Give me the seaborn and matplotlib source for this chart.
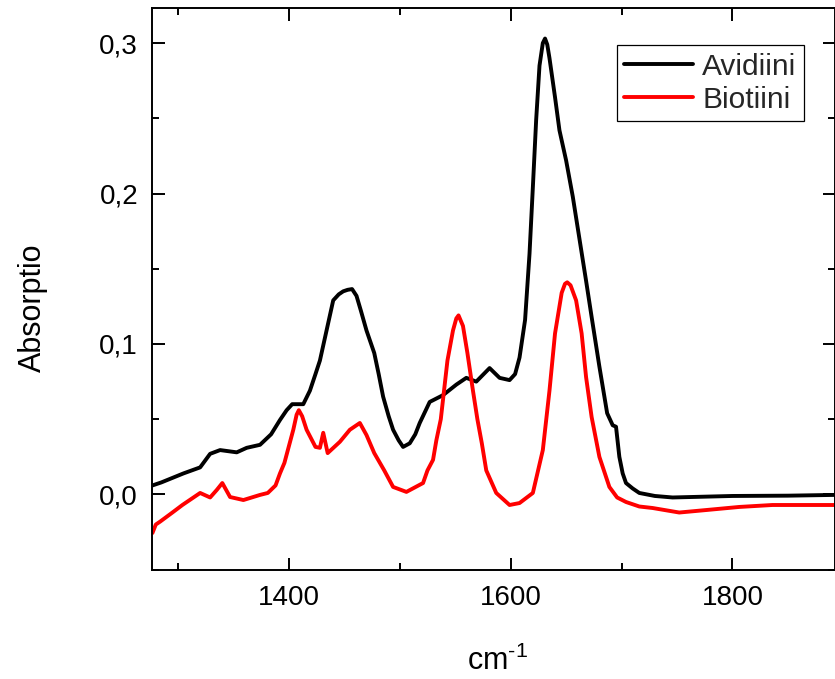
import matplotlib
matplotlib.use("Agg")
import matplotlib.pyplot as plt
import numpy as np
import pandas as pd
import seaborn as sns
from matplotlib.ticker import FixedLocator, MultipleLocator

# Wavenumbers (cm^-1) and absorbance for each sample
avidin_x = [1277, 1285, 1295, 1305, 1320, 1329, 1338, 1353, 1362, 1374, 1384, 1392,
            1398, 1403, 1413, 1419, 1424, 1428, 1434, 1440, 1445, 1449, 1453, 1457, 1461,
            1465, 1470, 1477, 1481, 1485, 1490, 1494, 1499, 1503, 1509, 1514, 1518, 1527,
            1539, 1551, 1560, 1569, 1581, 1590, 1599, 1604, 1608, 1613, 1617, 1620, 1623,
            1626, 1629, 1631, 1633, 1635, 1640, 1644, 1650, 1656, 1662, 1668, 1673, 1680,
            1687, 1692, 1695, 1698, 1701, 1704, 1710, 1716, 1730, 1746, 1800, 1850, 1892]
avidin_y = [0.006, 0.008, 0.011, 0.014, 0.018, 0.027, 0.0295, 0.028, 0.031, 0.033, 0.040, 0.0495,
            0.056, 0.060, 0.060, 0.069, 0.080, 0.089, 0.109, 0.129, 0.133, 0.135, 0.136, 0.1365, 0.132,
            0.122, 0.109, 0.094, 0.080, 0.065, 0.052, 0.043, 0.036, 0.0316, 0.034, 0.040, 0.0475, 0.0615,
            0.066, 0.073, 0.0775, 0.075, 0.084, 0.0775, 0.076, 0.080, 0.091, 0.116, 0.160, 0.204, 0.249,
            0.285, 0.300, 0.303, 0.299, 0.290, 0.264, 0.242, 0.222, 0.198, 0.170, 0.142, 0.118, 0.085,
            0.054, 0.046, 0.045, 0.025, 0.014, 0.0076, 0.004, 0.001, -0.001, -0.002, -0.001, -0.0008, -0.0003]

biotin_x = [1277, 1280, 1284, 1295, 1304, 1312, 1320, 1329, 1335, 1340, 1347, 1359,
            1374, 1381, 1388, 1392, 1396, 1400, 1404, 1407, 1409, 1412, 1416, 1424, 1428, 1431,
            1435, 1446, 1455, 1464, 1470, 1477, 1486, 1494, 1506, 1521, 1525, 1530,
            1533, 1537, 1543, 1548, 1551, 1553, 1557, 1561, 1566, 1570, 1574, 1578, 1587, 1599,
            1608, 1620, 1629, 1635, 1640, 1646, 1649, 1651, 1654, 1659, 1664, 1668, 1673, 1680,
            1689, 1696, 1704, 1716, 1728, 1752, 1777, 1806, 1836, 1892]
biotin_y = [-0.0256, -0.020, -0.018, -0.012, -0.007, -0.003, 0.001, -0.002, 0.003, 0.0076, -0.0017, -0.0037,
            -0.0003, 0.001, 0.006, 0.014, 0.021, 0.032, 0.043, 0.053, 0.056, 0.052, 0.043, 0.0316, 0.031, 0.041,
            0.0275, 0.035, 0.043, 0.0475, 0.0395, 0.0275, 0.016, 0.005, 0.0017, 0.0076, 0.016, 0.023,
            0.036, 0.050, 0.089, 0.109, 0.117, 0.119, 0.112, 0.094, 0.069, 0.050, 0.034, 0.016, 0.001, -0.007,
            -0.0057, 0.001, 0.0295, 0.069, 0.107, 0.134, 0.140, 0.141, 0.139, 0.129, 0.107, 0.078, 0.0515, 0.025,
            0.005, -0.002, -0.005, -0.008, -0.009, -0.012, -0.0103, -0.0083, -0.007, -0.007]

series_names = ["Avidiini", "Biotiini"]
series_colors = ["#000000", "#ff0000"]

x_major = [1400, 1600, 1800]
x_labels = ["1400", "1600", "1800"]
y_major = [0.0, 0.1, 0.2, 0.3]
y_labels = ["0,0", "0,1", "0,2", "0,3"]

df = pd.concat([
    pd.DataFrame({"cm": avidin_x, "abs": avidin_y, "näyte": series_names[0]}),
    pd.DataFrame({"cm": biotin_x, "abs": biotin_y, "näyte": series_names[1]}),
], ignore_index=True)

sns.set_theme(style="ticks")
plt.rcParams["font.family"] = ["Liberation Sans", "DejaVu Sans"]
plt.rcParams["mathtext.fontset"] = "custom"
plt.rcParams["mathtext.rm"] = "Liberation Sans"
plt.rcParams["mathtext.it"] = "Liberation Sans"

fig = plt.figure(figsize=(8.35, 6.79), dpi=100)
ax = fig.add_axes([152 / 835, 109 / 679, 682.5 / 835, 562 / 679])

sns.lineplot(data=df, x="cm", y="abs", hue="näyte", palette=series_colors,
             hue_order=series_names, sort=False, estimator=None, units="näyte",
             linewidth=2.8, ax=ax, legend=False)

ax.set_xlim(1276.6, 1892)
ax.set_ylim(-0.0502, 0.3233)

ax.xaxis.set_major_locator(FixedLocator(x_major))
ax.set_xticklabels(x_labels)
ax.xaxis.set_minor_locator(MultipleLocator(100))
ax.yaxis.set_major_locator(FixedLocator(y_major))
ax.set_yticklabels(y_labels)
ax.yaxis.set_minor_locator(MultipleLocator(0.05))

ax.tick_params(which="both", direction="in", top=True, right=True,
               width=1.4, color="black", labelcolor="black", labelsize=20)
ax.tick_params(axis="x", which="major", length=9, pad=11)
ax.tick_params(axis="y", which="major", length=9, pad=10)
ax.tick_params(which="minor", length=5)
for sp in ax.spines.values():
    sp.set_visible(True)
    sp.set_linewidth(1.4)
    sp.set_color("black")

ax.set_xlabel("cm$^{\\text{-1}}$", fontsize=22, color="black")
ax.set_ylabel("Absorptio", fontsize=22, color="black")
ax.xaxis.set_label_coords(0.506, -0.135)
ax.yaxis.set_label_coords(-0.153, 0.466)

handles = [plt.Line2D([], [], color=c, linewidth=2.8) for c in series_colors]
leg = ax.legend(handles, series_names, loc="upper right",
                bbox_to_anchor=(0.955, 0.934), borderaxespad=0,
                fontsize=21.5, frameon=True, fancybox=False, framealpha=1,
                edgecolor="black", handlelength=2.3, handletextpad=0.3,
                borderpad=0.25, labelspacing=0.18)
leg.get_frame().set_linewidth(0.9)

fig.savefig("out.png", dpi=100, facecolor="white")
